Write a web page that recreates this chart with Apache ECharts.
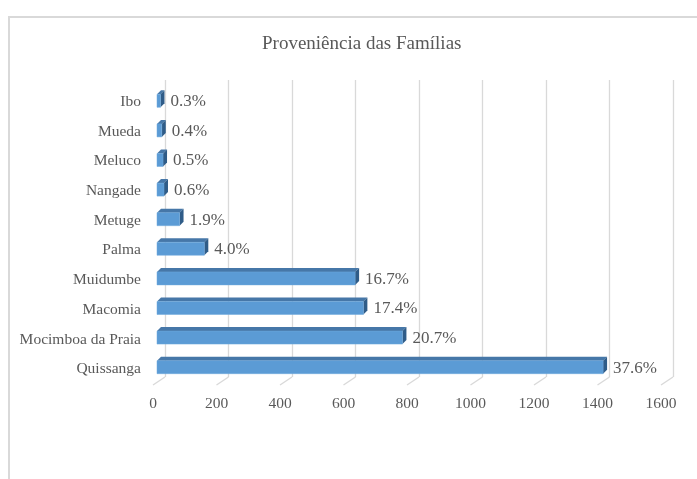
<!DOCTYPE html>
<html>
<head>
<meta charset="utf-8">
<script src="https://cdn.jsdelivr.net/npm/echarts@6/dist/echarts.min.js"></script>
<style>
html,body{margin:0;padding:0;background:#fff;}
#main{width:697px;height:479px;}
</style>
</head>
<body>
<div id="main"></div>
<script>
// categorias de baixo para cima
var categorias = ['Quissanga', 'Mocimboa da Praia', 'Macomia', 'Muidumbe', 'Palma', 'Metuge', 'Nangade', 'Meluco', 'Mueda', 'Ibo'];
var familias = [1405, 773, 650, 624, 149, 71, 22, 19, 15, 11];
var percentagens = ['37.6%', '20.7%', '17.4%', '16.7%', '4.0%', '1.9%', '0.6%', '0.5%', '0.4%', '0.3%'];
var marcas = [0, 200, 400, 600, 800, 1000, 1200, 1400, 1600];

var corTexto = '#595959';
var corGrelha = '#d9d9d9';
var fonte = '"Liberation Serif", "Times New Roman", serif';

// barras com efeito 3D (frente, topo e lado)
function desenhaBarra(params, api){
	var i = api.value(0);
	var inicio = api.coord([0, i]);
	var fim = api.coord([api.value(1), i]);
	var h = 13, d = 4;
	var x0 = inicio[0], x1 = fim[0];
	var yTop = inicio[1] - h / 2 + 1, yBot = yTop + h;
	return {
		type: 'group',
		children: [
			{type: 'polygon', shape: {points: [[x0, yTop], [x0 + d, yTop - d], [x1 + d, yTop - d], [x1, yTop]]},
				style: {fill: '#4677a8'}},
			{type: 'polygon', shape: {points: [[x1, yTop], [x1 + d, yTop - d], [x1 + d, yBot - d], [x1, yBot]]},
				style: {fill: '#2f5c88'}},
			{type: 'rect', shape: {x: x0, y: yTop, width: x1 - x0, height: h},
				style: {fill: '#5b9bd5', stroke: '#6fa8dc', lineWidth: 0.5}},
			{type: 'text', x: x1 + d + 6, y: (yTop + yBot) / 2 + 1,
				style: {text: percentagens[i], fill: corTexto, font: '17px ' + fonte, verticalAlign: 'middle', align: 'left'}}
		]
	};
}

// linhas diagonais do "chão"
function desenhaChao(params, api){
	var cs = params.coordSys;
	var x = api.coord([api.value(0), 0])[0];
	var yb = cs.y + cs.height;
	return {
		type: 'line',
		shape: {x1: x + 8, y1: yb - 4, x2: x - 4, y2: yb + 4},
		style: {stroke: corGrelha, lineWidth: 1.3}
	};
}

var option = {
	backgroundColor: '#fff',
	animation: false,
	title: {
		text: 'Proveniência das Famílias',
		left: 257,
		top: 30,
		textStyle: {fontFamily: fonte, fontSize: 19, fontWeight: 'normal', color: corTexto}
	},
	graphic: [{
		type: 'rect', silent: true, z: -10,
		shape: {x: 9, y: 17, width: 800, height: 600},
		style: {fill: 'none', stroke: corGrelha, lineWidth: 2}
	}],
	grid: [
		{left: 157, right: 32, top: 85, bottom: 98},
		{left: 165, right: 24, top: 80, bottom: 102},
		{left: 157, right: 32, top: 87, bottom: 95}
	],
	xAxis: [
		{
			gridIndex: 0, type: 'value', min: 0, max: 1600, interval: 200,
			axisLine: {show: false}, axisTick: {show: false}, splitLine: {show: false},
			axisLabel: {color: corTexto, fontFamily: fonte, fontSize: 15.5, margin: 15, padding: [0, 8, 0, 0],
				formatter: function(v){ return String(v); }}
		},
		{
			gridIndex: 1, type: 'value', min: 0, max: 1600, interval: 200,
			axisLine: {show: false}, axisTick: {show: false}, axisLabel: {show: false},
			splitLine: {show: true, lineStyle: {color: corGrelha, width: 1.3}}
		},
		{gridIndex: 2, type: 'value', show: false}
	],
	yAxis: [
		{
			gridIndex: 0, type: 'category', data: categorias,
			axisLine: {show: false}, axisTick: {show: false}, axisLabel: {show: false}
		},
		{gridIndex: 1, type: 'value', show: false},
		{
			// rótulos das categorias, um pouco abaixo do centro das barras
			gridIndex: 2, type: 'category', data: categorias,
			axisLine: {show: false}, axisTick: {show: false}, splitLine: {show: false},
			axisLabel: {color: corTexto, fontFamily: fonte, fontSize: 15.5, margin: 16}
		}
	],
	series: [
		{
			type: 'custom', xAxisIndex: 0, yAxisIndex: 0, z: 1,
			renderItem: desenhaChao,
			data: marcas.map(function(v){ return [v]; })
		},
		{
			type: 'custom', xAxisIndex: 0, yAxisIndex: 0, z: 5,
			renderItem: desenhaBarra,
			encode: {x: 1, y: 0},
			data: familias.map(function(v, i){ return [i, v]; })
		}
	]
};

echarts.init(document.getElementById('main')).setOption(option);
</script>
</body>
</html>
